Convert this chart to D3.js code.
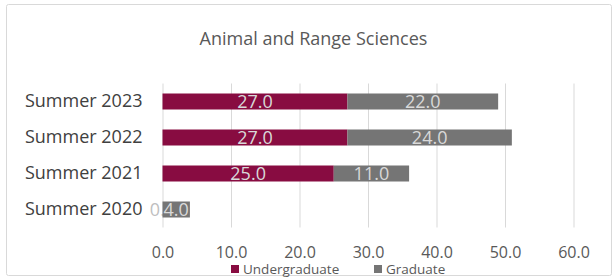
<!DOCTYPE html>
<html>
<head>
<meta charset="utf-8">
<script src="https://cdnjs.cloudflare.com/ajax/libs/d3/7.8.5/d3.min.js"></script>
<style>
  body { margin: 0; background: #fff; }
  text { font-family: "Open Sans", sans-serif; }
</style>
</head>
<body>
<script>
// chart data
var categories = ["Summer 2023", "Summer 2022", "Summer 2021", "Summer 2020"];
var seriesNames = ["Undergraduate", "Graduate"];
var undergraduate = [27, 27, 25, 0];
var graduate = [22, 24, 11, 4];
var xTicks = [0, 10, 20, 30, 40, 50, 60];
var title = "Animal and Range Sciences";

var colors = {"Undergraduate": "#880c41", "Graduate": "#757575"};

var width = 614, height = 278;
var margin = {top: 83.5, right: 40.5, bottom: 50.5, left: 162.5},
    w = width - margin.left - margin.right,
    h = height - margin.top - margin.bottom;

// rows for the stack layout
var rows = categories.map(function(c, i) {
    return {category: c, Undergraduate: undergraduate[i], Graduate: graduate[i]};
});
var stacked = d3.stack().keys(seriesNames)(rows);

var x = d3.scaleLinear().domain([0, 60]).range([0, w]);
var y = d3.scaleBand().domain(categories).range([0, h])
    .paddingInner(20 / 36).paddingOuter(10 / 36);

var svg = d3.select("body").append("svg")
    .attr("width", width)
    .attr("height", height);

// outer frame
svg.append("rect")
    .attr("x", 6.5).attr("y", 4.5)
    .attr("width", 605).attr("height", 271)
    .attr("rx", 2)
    .attr("fill", "#fff")
    .attr("stroke", "#d9d9d9");

svg.append("text")
    .attr("x", 313.5).attr("y", 45)
    .attr("text-anchor", "middle")
    .attr("font-size", 18)
    .attr("fill", "#595959")
    .text(title);

var g = svg.append("g")
    .attr("transform", "translate(" + margin.left + "," + margin.top + ")");

// vertical gridlines
g.append("g")
    .call(d3.axisBottom(x).tickValues(xTicks).tickSize(h).tickFormat(""))
    .call(function(a) { a.select(".domain").remove(); })
    .selectAll("line")
    .attr("stroke", "#d9d9d9");

// x tick labels
var xAxis = g.append("g")
    .attr("transform", "translate(0," + h + ")")
    .call(d3.axisBottom(x).tickValues(xTicks).tickSize(0).tickPadding(19).tickFormat(d3.format(".1f")));
xAxis.select(".domain").remove();
xAxis.selectAll("text")
    .attr("font-family", "Open Sans")
    .attr("font-size", 16)
    .attr("fill", "#595959");

// category labels
var yAxis = g.append("g")
    .call(d3.axisLeft(y).tickSize(0).tickPadding(20));
yAxis.select(".domain").remove();
yAxis.selectAll("text")
    .attr("font-family", "Open Sans")
    .attr("font-size", 18)
    .attr("fill", "#404040");

// bars
var layers = g.selectAll(".layer")
    .data(stacked)
    .enter().append("g")
    .attr("class", "layer")
    .attr("fill", function(d) { return colors[d.key]; });

layers.selectAll("rect")
    .data(function(d) { return d; })
    .enter().append("rect")
    .attr("x", function(d) { return x(d[0]); })
    .attr("y", function(d) { return y(d.data.category); })
    .attr("width", function(d) { return x(d[1]) - x(d[0]); })
    .attr("height", y.bandwidth());

// data labels
layers.selectAll(".lbl")
    .data(function(d) { return d; })
    .enter().append("text")
    .attr("class", "lbl")
    .attr("x", function(d) { return x((d[0] + d[1]) / 2); })
    .attr("y", function(d) { return y(d.data.category) + y.bandwidth() / 2; })
    .attr("dy", "0.36em")
    .attr("text-anchor", "middle")
    .attr("font-size", 18)
    .attr("fill", function(d) { return d[1] - d[0] === 0 ? "#bfbfbf" : "#d9d9d9"; })
    .text(function(d) { return d3.format(".1f")(d[1] - d[0]); });

// legend
var legend = svg.append("g").attr("transform", "translate(231,265)");
var lx = [0, 143];
seriesNames.forEach(function(s, i) {
    var item = legend.append("g").attr("transform", "translate(" + lx[i] + ",0)");
    item.append("rect")
        .attr("width", 8).attr("height", 8)
        .attr("fill", colors[s]);
    item.append("text")
        .attr("x", 12).attr("y", 8.5)
        .attr("font-size", 13.5)
        .attr("fill", "#595959")
        .text(s);
});
</script>
</body>
</html>
